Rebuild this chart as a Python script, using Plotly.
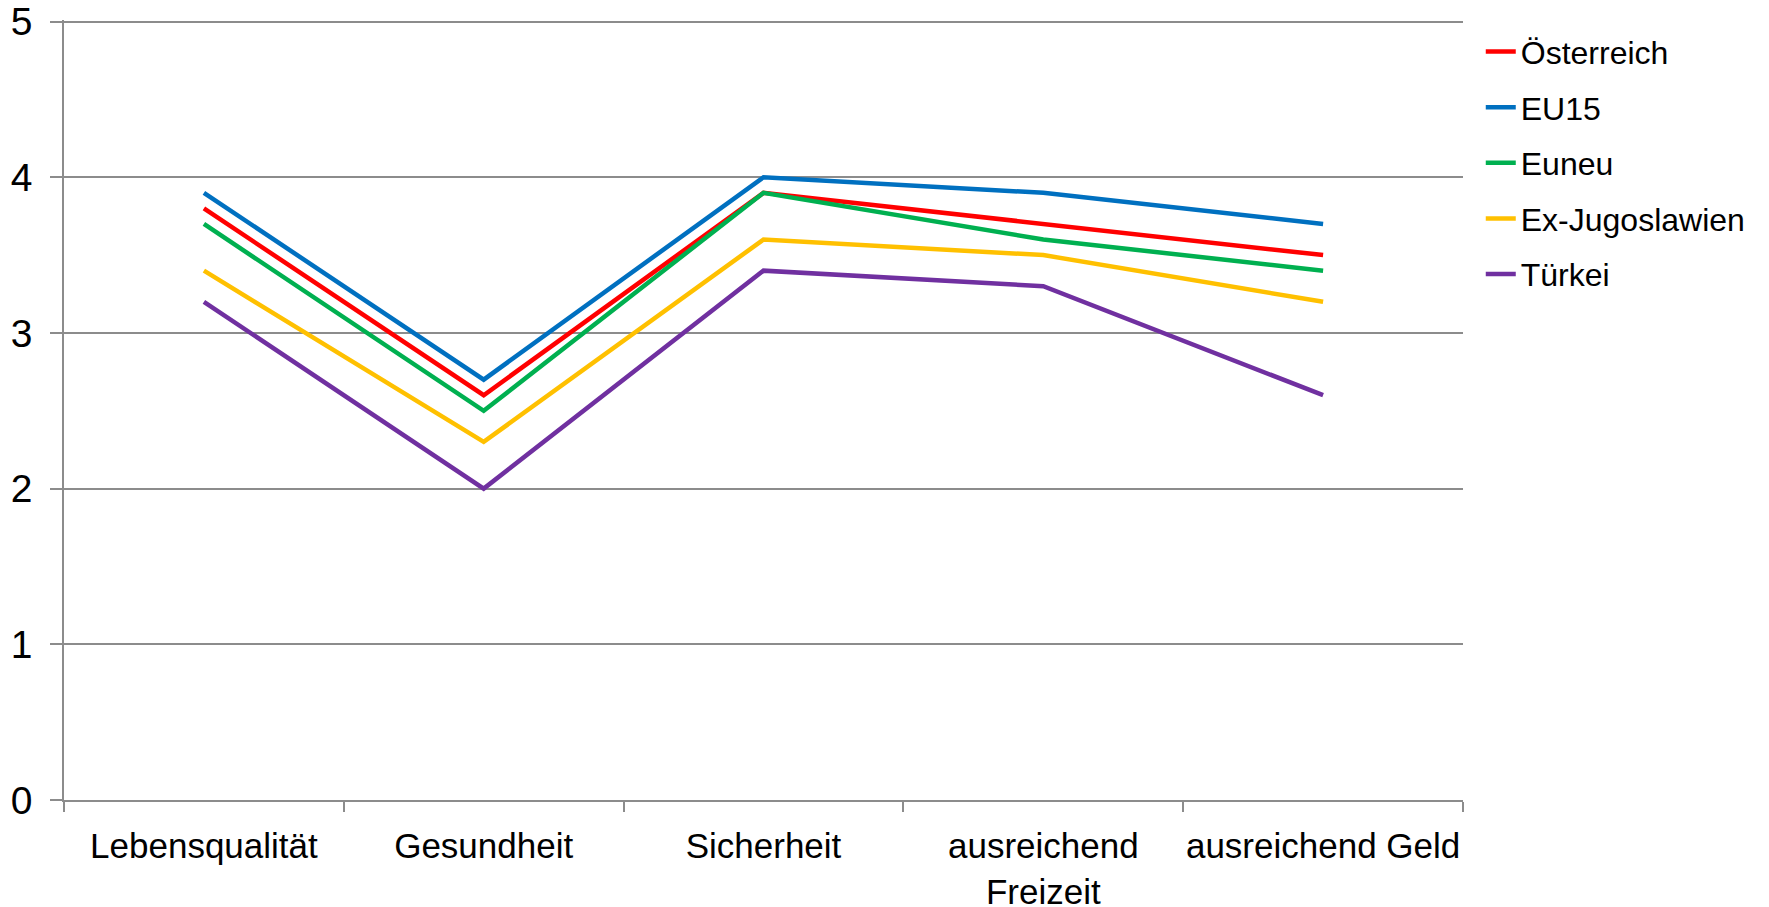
import plotly.graph_objects as go

categories = ["Lebensqualität", "Gesundheit", "Sicherheit", "ausreichend<br>Freizeit", "ausreichend Geld"]
series_names = ["Österreich", "EU15", "Euneu", "Ex-Jugoslawien", "Türkei"]
oesterreich = [3.8, 2.6, 3.9, 3.7, 3.5]
eu15 = [3.9, 2.7, 4.0, 3.9, 3.7]
euneu = [3.7, 2.5, 3.9, 3.6, 3.4]
ex_jugoslawien = [3.4, 2.3, 3.6, 3.5, 3.2]
tuerkei = [3.2, 2.0, 3.4, 3.3, 2.6]
series_values = [oesterreich, eu15, euneu, ex_jugoslawien, tuerkei]
colors = ["#FF0000", "#0070C0", "#00B050", "#FFC000", "#7030A0"]
y_ticks = [0, 1, 2, 3, 4, 5]

fig = go.Figure()
for name, vals, col in zip(series_names, series_values, colors):
    fig.add_trace(go.Scatter(
        x=categories, y=vals, name=name, mode="lines",
        line=dict(color=col, width=4.5), legendgroup=name,
    ))

fig.update_layout(
    width=1761, height=899,
    margin=dict(l=56, r=306, t=12, b=107, autoexpand=False),
    paper_bgcolor="white", plot_bgcolor="white",
    font=dict(family="Liberation Sans, Arial, sans-serif", color="black", size=30),
    legend=dict(
        x=1.0127, xanchor="left", y=0.9945, yanchor="top",
        font=dict(size=32), tracegroupgap=11,
        bgcolor="rgba(0,0,0,0)", itemwidth=30,
    ),
    xaxis=dict(
        type="category", range=[-0.5, 4.5], automargin=False, tickangle=0,
        showline=True, linecolor="#8C8C8C", linewidth=2,
        ticks="outside", tickson="boundaries", ticklen=10, tickcolor="#8C8C8C", tickwidth=1.5,
        showgrid=False, tickfont=dict(size=35), ticklabelstandoff=14,
        ticklabeloverflow="allow",
    ),
    yaxis=dict(
        range=[0, 5.01], tickvals=y_ticks, automargin=False,
        showline=True, linecolor="#8C8C8C", linewidth=1.5,
        showgrid=True, gridcolor="#8C8C8C", gridwidth=1.5,
        ticks="outside", ticklen=12, tickcolor="#8C8C8C", tickwidth=1.5,
        tickfont=dict(size=39), ticklabelstandoff=10, zeroline=False,
        ticklabeloverflow="allow",
    ),
)

fig.write_html("out.html")
